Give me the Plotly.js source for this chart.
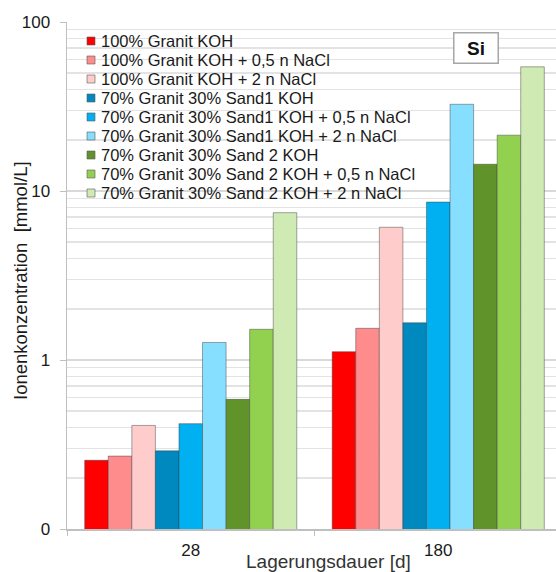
<!DOCTYPE html>
<html>
<head>
<meta charset="utf-8">
<script src="https://cdn.plot.ly/plotly-3.0.1.min.js"></script>
<style>html,body{margin:0;padding:0;background:#fff;}#chart{width:556px;height:572px;}</style>
</head>
<body>
<div id="chart"></div>
<script>
// ---- data ----
const days = ['28', '180'];
const seriesNames = [
  '100% Granit KOH',
  '100% Granit KOH + 0,5 n NaCl',
  '100% Granit KOH + 2 n NaCl',
  '70% Granit 30% Sand1 KOH',
  '70% Granit 30% Sand1 KOH + 0,5 n NaCl',
  '70% Granit 30% Sand1 KOH + 2 n NaCl',
  '70% Granit 30% Sand 2 KOH',
  '70% Granit 30% Sand 2 KOH + 0,5 n NaCl',
  '70% Granit 30% Sand 2 KOH + 2 n NaCl'
];
const granitKOH        = [0.255, 1.12];
const granitKOH05      = [0.27, 1.54];
const granitKOH2       = [0.41, 6.1];
const sand1KOH         = [0.29, 1.66];
const sand1KOH05       = [0.42, 8.6];
const sand1KOH2        = [1.27, 32.6];
const sand2KOH         = [0.585, 14.4];
const sand2KOH05       = [1.52, 21.4];
const sand2KOH2        = [7.44, 54.3];
const seriesValues = [granitKOH, granitKOH05, granitKOH2, sand1KOH, sand1KOH05, sand1KOH2, sand2KOH, sand2KOH05, sand2KOH2];
const seriesColors = ['#FF0000', '#FF8C8C', '#FFCCCC', '#0089BF', '#00B0F0', '#87DFFF', '#60942A', '#92D050', '#D0EAB4'];
const yTickVals = [0.1, 1, 10, 100];
const yTickText = ['0', '1', '10', '100'];
const panelLabel = 'Si';
const xTitle = 'Lagerungsdauer [d]';
const yTitle = 'Ionenkonzentration  [mmol/L]';

// ---- layout geometry (pixels) ----
const W = 556, H = 572;
const mL = 67, mR = 0, mT = 22, mB = 43;
const pw = W - mL - mR, ph = H - mT - mB;
const px = x => (x - mL) / pw;           // pixel -> paper x
const py = y => (H - mB - y) / ph;       // pixel -> paper y
const FONT = 'Liberation Sans, Arial, sans-serif';

const traces = seriesNames.map((name, i) => ({
  type: 'bar',
  name: name,
  x: days,
  y: seriesValues[i],
  marker: {color: seriesColors[i], line: {color: 'rgba(60,60,60,0.45)', width: 1}},
  showlegend: false,
  hoverinfo: 'x+y+name'
}));

const shapes = [];
const annotations = [];
seriesNames.forEach((name, i) => {
  const cy = 41 + i * 19;
  shapes.push({
    type: 'rect', xref: 'paper', yref: 'paper',
    x0: px(87), x1: px(95), y0: py(cy + 4), y1: py(cy - 4),
    fillcolor: seriesColors[i], line: {color: 'rgba(90,90,90,0.6)', width: 1}
  });
  annotations.push({
    xref: 'paper', yref: 'paper', x: px(99), y: py(cy),
    xanchor: 'left', yanchor: 'middle', showarrow: false,
    text: name, font: {family: FONT, size: 16.5, color: '#1a1a1a'}
  });
});
annotations.push({
  xref: 'paper', yref: 'paper', x: px(476), y: py(48),
  xanchor: 'center', yanchor: 'middle', showarrow: false,
  text: '<b>' + panelLabel + '</b>', font: {family: FONT, size: 19, color: '#111'},
  bgcolor: '#fff', bordercolor: '#a6a6a6', borderwidth: 1.5,
  width: 43, height: 29, borderpad: 0
});
annotations.push({
  xref: 'paper', yref: 'paper', x: px(328), y: py(561),
  xanchor: 'center', yanchor: 'middle', showarrow: false,
  text: xTitle, font: {family: FONT, size: 19, color: '#333'}
});
annotations.push({
  xref: 'paper', yref: 'paper', x: px(20), y: py(281),
  xanchor: 'center', yanchor: 'middle', showarrow: false, textangle: -90,
  text: yTitle, font: {family: FONT, size: 18.5, color: '#1a1a1a'}
});

const layout = {
  width: W, height: H,
  margin: {l: mL, r: mR, t: mT, b: mB, pad: 0},
  paper_bgcolor: '#fff', plot_bgcolor: '#fff',
  font: {family: FONT, color: '#1a1a1a'},
  barmode: 'group', bargap: 0.143, bargroupgap: 0,
  showlegend: false,
  xaxis: {
    type: 'category', range: [-0.5, -0.5 + pw / 247.5],
    showline: true, linecolor: '#bfbfbf', linewidth: 1.5,
    ticks: 'outside', tickson: 'boundaries', ticklen: 5, tickcolor: '#bfbfbf',
    ticklabelstandoff: 5,
    tickfont: {family: FONT, size: 17, color: '#1a1a1a'},
    showgrid: false, zeroline: false
  },
  yaxis: {
    type: 'log', range: [-1, 2],
    tickvals: yTickVals, ticktext: yTickText,
    tickfont: {family: FONT, size: 17, color: '#1a1a1a'},
    ticks: 'outside', ticklen: 6, tickcolor: '#bfbfbf', ticklabelstandoff: 6,
    showline: true, linecolor: '#bfbfbf', linewidth: 1.5,
    showgrid: true, gridcolor: '#d9d9d9', gridwidth: 1.5,
    minor: {showgrid: true, gridcolor: '#e3e3e3', gridwidth: 1.5, dtick: 'D1'},
    zeroline: false
  },
  shapes: shapes,
  annotations: annotations
};

Plotly.newPlot('chart', traces, layout, {displayModeBar: false, staticPlot: true});
</script>
</body>
</html>
